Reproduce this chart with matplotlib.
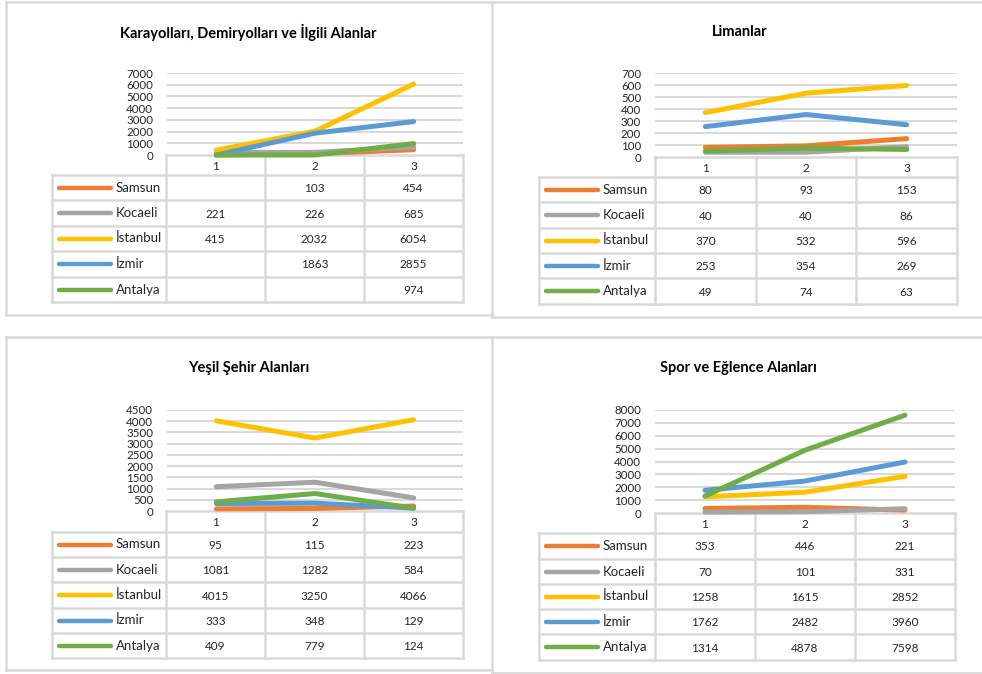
import matplotlib
matplotlib.use("Agg")
import matplotlib.pyplot as plt
from matplotlib.lines import Line2D

plt.rcParams['font.family'] = ['Lato', 'DejaVu Sans']

W, H = 982, 674

# Data
cities = ["Samsun", "Kocaeli", "İstanbul", "İzmir", "Antalya"]
periods = ["1", "2", "3"]
colors = ["#ED7D31", "#A5A5A5", "#FFC000", "#5B9BD5", "#70AD47"]

karayollari = [[None, 103, 454], [221, 226, 685], [415, 2032, 6054],
               [None, 1863, 2855], [None, None, 974]]
limanlar = [[80, 93, 153], [40, 40, 86], [370, 532, 596],
            [253, 354, 269], [49, 74, 63]]
yesil = [[95, 115, 223], [1081, 1282, 584], [4015, 3250, 4066],
         [333, 348, 129], [409, 779, 124]]
spor = [[353, 446, 221], [70, 101, 331], [1258, 1615, 2852],
        [1762, 2482, 3960], [1314, 4878, 7598]]

titles = ["Karayolları, Demiryolları ve İlgili Alanlar", "Limanlar",
          "Yeşil Şehir Alanları", "Spor ve Eğlence Alanları"]
series = [karayollari, limanlar, yesil, spor]
ymax = [7000, 700, 4500, 8000]
ystep = [1000, 100, 500, 1000]

# layout in pixels: title (x, y), plot (x0, x1, y0, y1), legend col x0, column edges, row edges
layout = [
    dict(title=(248, 32), plot=(167, 463, 73, 155), leg=52,
         cols=[166, 265, 364, 463], rows=[155, 175, 200, 226, 251, 277, 302]),
    dict(title=(740, 32), plot=(655, 957, 73, 157), leg=539,
         cols=[655, 756, 856, 957], rows=[157, 177, 202, 228, 253, 278, 304]),
    dict(title=(249, 368), plot=(167, 463, 410, 511), leg=52,
         cols=[166, 265, 364, 463], rows=[511, 532, 557, 582, 608, 633, 658]),
    dict(title=(738, 368), plot=(655, 955, 410, 513), leg=539,
         cols=[655, 755, 855, 955], rows=[513, 533, 559, 584, 609, 634, 660]),
]

grid_c = "#D9D9D9"
text_c = "#262626"

fig = plt.figure(figsize=(W / 100, H / 100), dpi=100)
bg = fig.add_axes([0, 0, 1, 1])
bg.set_xlim(0, W)
bg.set_ylim(H, 0)
bg.axis("off")

# panel borders
def seg(x0, y0, x1, y1):
    bg.add_line(Line2D([x0, x1], [y0, y1], color=grid_c, lw=1.8))

seg(6, 2, 982, 2); seg(6, 2, 6, 315); seg(6, 315, 492, 315); seg(492, 2, 492, 317)
seg(492, 317, 982, 317)
seg(6, 337, 982, 337); seg(6, 337, 6, 670); seg(6, 670, 492, 670); seg(492, 337, 492, 673)
seg(492, 673, 982, 673)

for k in range(4):
    L = layout[k]
    data = series[k]
    tx, ty = L["title"]
    bg.text(tx, ty, titles[k], ha="center", va="center", fontsize=10.5,
            fontweight="bold", color="black")

    px0, px1, py0, py1 = L["plot"]
    ax = fig.add_axes([px0 / W, 1 - py1 / H, (px1 - px0) / W, (py1 - py0) / H])
    ax.set_xlim(0.5, 3.5)
    ax.set_ylim(0, ymax[k])
    ticks = list(range(0, ymax[k] + 1, ystep[k]))
    ax.set_yticks(ticks)
    ax.set_yticklabels([str(t) for t in ticks], fontsize=8.3, color=text_c)
    ax.tick_params(axis="y", length=0, pad=10)
    ax.set_xticks([])
    for s in ax.spines.values():
        s.set_visible(False)
    ax.patch.set_alpha(0)
    for t in ticks[1:]:
        ax.axhline(t, color=grid_c, lw=1.5, zorder=0)
    for i in range(len(cities)):
        vals = [v if v is not None else 0 for v in data[i]]
        ax.plot([1, 2, 3], vals, color=colors[i], lw=3.6,
                solid_capstyle="round", solid_joinstyle="round", clip_on=False, zorder=3)

    # data table
    cols = L["cols"]
    rows = L["rows"]
    leg = L["leg"]
    for x in cols:
        seg(x, rows[0], x, rows[-1])
    seg(leg, rows[1], leg, rows[-1])
    seg(cols[0], rows[0], cols[-1], rows[0])
    for y in rows[1:]:
        seg(leg, y, cols[-1], y)
    for j, p in enumerate(periods):
        bg.text((cols[j] + cols[j + 1]) / 2, (rows[0] + rows[1]) / 2 + 1, p,
                ha="center", va="center", fontsize=8.5, color=text_c)
    for i, c in enumerate(cities):
        yc = (rows[i + 1] + rows[i + 2]) / 2
        bg.add_line(Line2D([leg + 7, leg + 59], [yc, yc], color=colors[i], lw=3.2,
                           solid_capstyle="round"))
        bg.text(leg + 64, yc, c, ha="left", va="center", fontsize=9.5, color=text_c)
        for j in range(3):
            v = data[i][j]
            if v is not None:
                bg.text((cols[j] + cols[j + 1]) / 2, yc + 1, str(v),
                        ha="center", va="center", fontsize=8.5, color=text_c)

fig.savefig("out.png", dpi=100)
